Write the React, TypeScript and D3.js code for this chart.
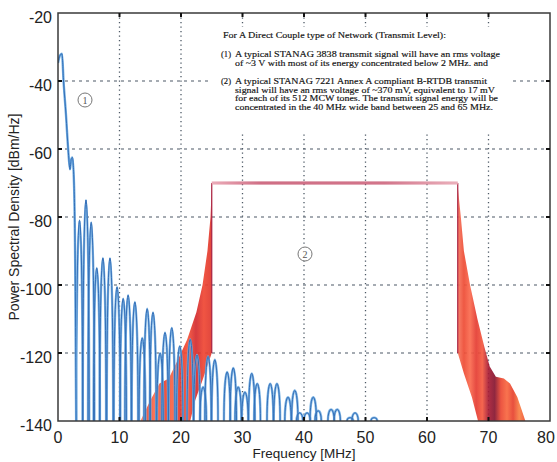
import React from "react";
import * as d3 from "d3";

// x ticks / y ticks
const xTicks = [0, 10, 20, 30, 40, 50, 60, 70, 80];
const yTicks = [-20, -40, -60, -80, -100, -120, -140];

// (1) STANAG 3838 main lobe
const mainLobeF = [0, 0.35, 0.65, 0.9, 1.3, 1.65, 1.95, 2.15, 2.35, 2.6, 2.8, 2.95];
const mainLobeDb = [-34.7, -32.4, -32, -40, -50, -60, -66, -63, -62.5, -70, -95, -140];

// side lobes: centre frequency [MHz] and peak level [dBm/Hz]
const lobeF = [
  3.5, 4.55, 5.4, 6.3, 7.3, 8.45, 9.6, 10.6, 11.4, 12.5, 13.7, 14.5, 15.45,
  16.6, 17.4, 18.5, 19.8, 21.5, 22.6, 23.6, 24.4, 25.5, 27.5, 28.5, 29.3,
  30.4, 31.5, 32.4, 34.5, 35.6, 37.4, 38.5, 39.3, 40.5, 41.5, 42.3, 44.4,
  45.4, 47.5, 48.3, 51.4,
];
const lobeDb = [
  -81, -75, -81.5, -95, -92, -92, -100.6, -104, -103, -105, -115.6, -107, -108,
  -120, -114, -112.6, -118, -116, -120.6, -130, -121, -122, -125.6, -124.4, -130,
  -131.5, -126, -129, -129, -129, -133, -131, -137.6, -137.6, -133, -137, -136.6,
  -136.6, -139, -137.6, -139,
];

// (2) STANAG 7221 band: flat top and the two skirts (outline points)
const bandF = [25, 65];
const bandDb = -70;
const skirtLowF = [13.4, 15, 16.5, 18, 19.5, 21, 22.5, 23.5, 24.3, 24.8, 25, 25, 23.5, 22.3, 21.5];
const skirtLowDb = [-140, -134, -129, -127.5, -122, -116, -108, -100, -90, -80, -71, -120, -128, -134, -140];
const skirtHighF = [65, 65.5, 66, 67, 68.2, 69.3, 70.2, 71.2, 72.5, 73.5, 74.7, 76, 68.3, 67.3, 66, 65];
const skirtHighDb = [-71, -80, -90, -100, -110, -118, -124, -127, -127.5, -129, -133, -140, -140, -133, -126, -120];

const noteTitle = "For A Direct Couple type of Network  (Transmit Level):";
const note1 = [
  "A typical STANAG 3838 transmit signal will have an rms voltage",
  "of ~3 V with most of its energy concentrated below 2 MHz. and",
];
const note2 = [
  "A typical STANAG 7221 Annex A compliant B-RTDB transmit",
  "signal will have an rms voltage of  ~370 mV, equivalent to 17 mV",
  "for each of its 512 MCW tones.  The transmit signal energy will be",
  "concentrated in the 40 MHz wide band between 25 and 65 MHz.",
];
// widths of the note lines as they appear in the picture
const note1Len = [265, 253];
const note2Len = [252, 260, 263, 258];

const W = 557;
const H = 462;
const left = 58;
const right = 550;
const top = 13;
const bottom = 421;

export default function App() {
  const x = d3.scaleLinear().domain([0, 80]).range([left, right]);
  const y = d3.scaleLinear().domain([-140, -20]).range([bottom, top]);

  const line = d3
    .line<[number, number]>()
    .x((d) => x(d[0]))
    .y((d) => y(d[1]));

  const mainPath = line.curve(d3.curveMonotoneX)(
    mainLobeF.map((f, i) => [f, mainLobeDb[i]] as [number, number])
  );
  const poly = d3
    .line<[number, number]>()
    .x((d) => x(d[0]))
    .y((d) => y(d[1]))
    .curve(d3.curveLinearClosed);
  const lowPath = poly(skirtLowF.map((f, i) => [f, skirtLowDb[i]] as [number, number]));
  const highPath = poly(skirtHighF.map((f, i) => [f, skirtHighDb[i]] as [number, number]));

  const halfW = 0.52;
  const lobePaths = lobeF.map((f, i) => {
    const x0 = x(f - halfW);
    const x1 = x(f + halfW);
    const yb = y(-140);
    const rx = (x1 - x0) / 2;
    const ry = yb - y(lobeDb[i]);
    return `M${x0},${yb}A${rx},${ry} 0 0 1 ${x1},${yb}`;
  });

  const topPath = `M${x(bandF[0])},${y(bandDb)}H${x(bandF[1])}`;
  const edgePath = `M${x(bandF[0])},${y(-120)}V${y(bandDb)}M${x(bandF[1])},${y(bandDb)}V${y(-120)}`;

  const lowStops = ["#fa8060", "#f24e34", "#fd7454", "#ea3e2c", "#f86444", "#e2352b", "#f65238", "#d22a2e", "#ef4632", "#de372d"];
  const highStops = ["#f7775e", "#ed4a33", "#fa6a4e", "#e43b31", "#f4583f", "#a81c34", "#86142f", "#ea4631", "#f8673f", "#e6402d", "#f88044", "#f05233"];

  return (
    <svg width={W} height={H} style={{ position: "absolute", left: 0, top: 0, background: "#fff" }}>
      <defs>
        <clipPath id="plot">
          <rect x={left} y={top} width={right - left} height={bottom - top} />
        </clipPath>
        <linearGradient id="redLow" gradientUnits="userSpaceOnUse" x1={x(13.4)} x2={x(25)} y1={0} y2={0}>
          {lowStops.map((c, i) => (
            <stop key={i} offset={i / (lowStops.length - 1)} stopColor={c} />
          ))}
        </linearGradient>
        <linearGradient id="redHigh" gradientUnits="userSpaceOnUse" x1={x(65)} x2={x(76)} y1={0} y2={0}>
          {highStops.map((c, i) => (
            <stop key={i} offset={i / (highStops.length - 1)} stopColor={c} />
          ))}
        </linearGradient>
        <linearGradient id="bar" gradientUnits="userSpaceOnUse" x1={x(25)} x2={x(65)} y1={0} y2={0}>
          <stop offset={0} stopColor="#e9a2b0" />
          <stop offset={0.2} stopColor="#c24d68" />
          <stop offset={0.7} stopColor="#c65670" />
          <stop offset={1} stopColor="#e8a8b4" />
        </linearGradient>
      </defs>

      {/* grid */}
      {yTicks.slice(1, -1).map((t) => (
        <line key={"gy" + t} x1={left} x2={right} y1={y(t)} y2={y(t)} stroke="#4d5966" strokeWidth={1.2} strokeDasharray="3,4" />
      ))}
      {xTicks.slice(1, -1).map((t) => (
        <line key={"gx" + t} x1={x(t)} x2={x(t)} y1={top} y2={bottom} stroke="#4d5966" strokeWidth={1.3} strokeDasharray="1.3,3.2" />
      ))}

      {/* note box hides the grid */}
      <rect x={210} y={27} width={302} height={105} fill="#fff" />

      <g clipPath="url(#plot)">
        <path d={lowPath ?? ""} fill="url(#redLow)" opacity={0.92} />
        <path d={highPath ?? ""} fill="url(#redHigh)" opacity={0.92} />
        <path d={edgePath} fill="none" stroke="#a82040" strokeWidth={1.2} />
        <path d={topPath} fill="none" stroke="url(#bar)" strokeWidth={3} />
        <path d={topPath} fill="none" stroke="#f3c8d0" strokeWidth={0.7} opacity={0.8} />

        {lobePaths.map((d, i) => (
          <path key={"l" + i} d={d} fill="none" stroke="#72aee2" strokeWidth={2.4} opacity={0.9} />
        ))}
        {lobePaths.map((d, i) => (
          <path key={"k" + i} d={d} fill="none" stroke="#346fb8" strokeWidth={1} />
        ))}
        <path d={mainPath ?? ""} fill="none" stroke="#72aee2" strokeWidth={2.4} />
        <path d={mainPath ?? ""} fill="none" stroke="#346fb8" strokeWidth={1} />
      </g>

      {/* frame and ticks */}
      <rect x={left} y={top} width={right - left} height={bottom - top} fill="none" stroke="#3a3a3a" strokeWidth={1.5} />
      {xTicks.slice(1, -1).map((t) => (
        <g key={"tx" + t} stroke="#111" strokeWidth={2}>
          <line x1={x(t)} x2={x(t)} y1={top} y2={top + 4} />
          <line x1={x(t)} x2={x(t)} y1={bottom} y2={bottom - 4} />
        </g>
      ))}
      {yTicks.slice(1, -1).map((t) => (
        <g key={"ty" + t} stroke="#111" strokeWidth={2}>
          <line x1={left} x2={left + 4} y1={y(t)} y2={y(t)} />
          <line x1={right} x2={right - 4} y1={y(t)} y2={y(t)} />
        </g>
      ))}

      {/* tick labels */}
      <g fontFamily="Liberation Sans, Arial, sans-serif" fontSize={16} fill="#222">
        {yTicks.map((t) => (
          <text key={"ly" + t} x={left - 6} y={y(t) + 10} textAnchor="end">
            {t}
          </text>
        ))}
        {xTicks.map((t) => (
          <text key={"lx" + t} x={Math.min(x(t), W - 11)} y={bottom + 22} textAnchor="middle">
            {t}
          </text>
        ))}
      </g>
      <text x={(left + right) / 2} y={H - 4} textAnchor="middle" fontFamily="Liberation Sans, Arial, sans-serif" fontSize={13.5} fill="#222">
        Frequency [MHz]
      </text>
      <text
        transform={`translate(19,${(top + bottom) / 2}) rotate(-90)`}
        textAnchor="middle"
        fontFamily="Liberation Sans, Arial, sans-serif"
        fontSize={14}
        fill="#222"
      >
        Power Spectral Density [dBm/Hz]
      </text>

      {/* circled labels */}
      <g fontFamily="Liberation Serif, serif" fontSize={10} fill="#555" textAnchor="middle">
        <circle cx={85} cy={100} r={7} fill="#fff" stroke="#777" strokeWidth={1} />
        <text x={85} y={103.5}>1</text>
        <circle cx={305} cy={254} r={7} fill="#fff" stroke="#777" strokeWidth={1} />
        <text x={305} y={257.5}>2</text>
      </g>

      {/* note */}
      <g fontFamily="Liberation Serif, Times New Roman, serif" fontSize={8.6} fill="#111" stroke="#111" strokeWidth={0.15}>
        <text x={223} y={38} textLength={223} lengthAdjust="spacingAndGlyphs">{noteTitle}</text>
        <text x={221} y={57}>(1)</text>
        {note1.map((s, i) => (
          <text key={"n1" + i} x={235} y={57 + i * 8.7} textLength={note1Len[i]} lengthAdjust="spacingAndGlyphs">{s}</text>
        ))}
        <text x={221} y={84}>(2)</text>
        {note2.map((s, i) => (
          <text key={"n2" + i} x={235} y={84 + i * 8.7} textLength={note2Len[i]} lengthAdjust="spacingAndGlyphs">{s}</text>
        ))}
      </g>
    </svg>
  );
}
